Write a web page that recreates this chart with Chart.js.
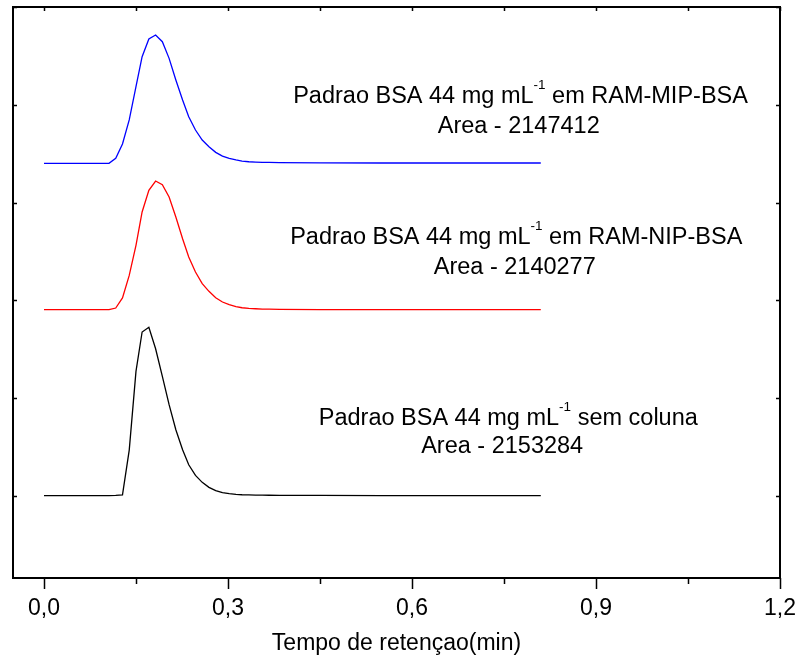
<!DOCTYPE html>
<html>
<head>
<meta charset="utf-8">
<script src="https://cdn.jsdelivr.net/npm/chart.js@4.4.1/dist/chart.umd.min.js"></script>
<style>
  html, body { margin: 0; padding: 0; background: #fff; }
  #wrap { width: 798px; height: 660px; position: relative; }
</style>
</head>
<body>
<div id="wrap"><canvas id="grafico"></canvas></div>
<script>
// Tempo de retenção (min), comum às três corridas
const tempo = [0, 0.05, 0.106, 0.117, 0.128, 0.139, 0.150, 0.160, 0.171, 0.182, 0.193, 0.204,
  0.215, 0.226, 0.236, 0.247, 0.258, 0.269, 0.280, 0.291, 0.302, 0.313, 0.323, 0.334,
  0.345, 0.356, 0.367, 0.384, 0.45, 0.55, 0.65, 0.81];

// Sinal (u.a.) - curvas deslocadas verticalmente
const sinalMIP = [3.402, 3.402, 3.402, 3.453, 3.599, 3.845, 4.185, 4.492, 4.673, 4.714, 4.645, 4.475,
  4.254, 4.049, 3.878, 3.742, 3.640, 3.572, 3.514, 3.476, 3.453, 3.436, 3.425, 3.418,
  3.415, 3.412, 3.412, 3.409, 3.406, 3.405, 3.405, 3.405];
const sinalNIP = [1.905, 1.905, 1.905, 1.922, 2.025, 2.256, 2.563, 2.904, 3.126, 3.221, 3.183, 3.057,
  2.853, 2.631, 2.444, 2.290, 2.171, 2.093, 2.028, 1.984, 1.956, 1.936, 1.925, 1.919,
  1.915, 1.912, 1.911, 1.909, 1.906, 1.905, 1.905, 1.905];
const sinalSemColuna = [0.005, 0.005, 0.005, 0.006, 0.012, 0.470, 1.275, 1.677, 1.725, 1.506, 1.224, 0.934,
  0.678, 0.473, 0.320, 0.211, 0.140, 0.089, 0.055, 0.034, 0.024, 0.017, 0.013, 0.011,
  0.010, 0.009, 0.008, 0.007, 0.006, 0.005, 0.005, 0.005];

// Eixos
const xTicks = [0, 0.3, 0.6, 0.9, 1.2];
const xTickLabels = ['0,0', '0,3', '0,6', '0,9', '1,2'];
const xMinorTicks = [0.15, 0.45, 0.75, 1.05];
const yTicks = [0, 1, 2, 3, 4, 5];

// Textos das anotações
const rotulos = [
  { pre: 'Padrao BSA 44 mg mL', sup: '-1', post: ' em RAM-MIP-BSA', area: 'Area - 2147412' },
  { pre: 'Padrao BSA 44 mg mL', sup: '-1', post: ' em RAM-NIP-BSA', area: 'Area - 2140277' },
  { pre: 'Padrao BSA 44 mg mL', sup: '-1', post: ' sem coluna', area: 'Area - 2153284' }
];
// posição (em unidades dos eixos) de cada linha de texto
const posRotulos = [
  { x1: 0.777, y1: 4.015, x2: 0.774, y2: 3.709 },
  { x1: 0.770, y1: 2.574, x2: 0.7675, y2: 2.270 },
  { x1: 0.757, y1: 0.726, x2: 0.747, y2: 0.437 }
];

const FONTE = "'Liberation Sans', Arial, sans-serif";
const TAM = 23;      // texto dos eixos
const TAM_ROT = 23.5; // anotações

function pontos(ys) {
  return tempo.map((t, i) => ({ x: t, y: ys[i] }));
}

// Moldura, marcas dos eixos e anotações
const moldura = {
  id: 'moldura',
  afterDatasetsDraw(chart) {
    const { ctx, chartArea: a, scales: { x, y } } = chart;
    ctx.save();
    ctx.strokeStyle = '#000';
    ctx.lineWidth = 2;
    ctx.strokeRect(a.left, a.top, a.right - a.left, a.bottom - a.top);

    ctx.lineWidth = 1.5;
    ctx.beginPath();
    xTicks.concat(xMinorTicks).forEach(v => {
      const px = Math.round(x.getPixelForValue(v)) + 0.5;
      const len = xTicks.includes(v) ? 11 : 6;
      ctx.moveTo(px, a.bottom);
      ctx.lineTo(px, a.bottom + len);
      ctx.moveTo(px, a.top);
      ctx.lineTo(px, a.top + 4);
    });
    yTicks.forEach(v => {
      const py = Math.round(y.getPixelForValue(v)) + 0.5;
      ctx.moveTo(a.left, py);
      ctx.lineTo(a.left + 4, py);
      ctx.moveTo(a.right, py);
      ctx.lineTo(a.right - 4, py);
    });
    ctx.stroke();

    // anotações
    ctx.fillStyle = '#000';
    ctx.textBaseline = 'alphabetic';
    const grande = TAM_ROT + 'px ' + FONTE;
    const peq = '13.5px ' + FONTE;
    rotulos.forEach((r, i) => {
      const p = posRotulos[i];
      ctx.font = grande;
      const wPre = ctx.measureText(r.pre).width;
      const wPost = ctx.measureText(r.post).width;
      ctx.font = peq;
      const wSup = ctx.measureText(r.sup).width;
      const total = wPre + wSup + wPost;
      const cx = x.getPixelForValue(p.x1) - total / 2;
      const by = y.getPixelForValue(p.y1);
      ctx.textAlign = 'left';
      ctx.font = grande;
      ctx.fillText(r.pre, cx, by);
      ctx.font = peq;
      ctx.fillText(r.sup, cx + wPre, by - 14.5);
      ctx.font = grande;
      ctx.fillText(r.post, cx + wPre + wSup, by);
      ctx.textAlign = 'center';
      ctx.fillText(r.area, x.getPixelForValue(p.x2), y.getPixelForValue(p.y2));
    });
    ctx.restore();
  }
};

const ctx = document.getElementById('grafico').getContext('2d');
new Chart(ctx, {
  type: 'line',
  data: {
    datasets: [
      { label: 'RAM-MIP-BSA', data: pontos(sinalMIP), borderColor: '#0000ff' },
      { label: 'RAM-NIP-BSA', data: pontos(sinalNIP), borderColor: '#ff0000' },
      { label: 'sem coluna', data: pontos(sinalSemColuna), borderColor: '#000000' }
    ]
  },
  options: {
    responsive: true,
    maintainAspectRatio: false,
    devicePixelRatio: 1,
    animation: false,
    layout: { padding: { left: 13, right: 18, top: 7, bottom: 0 } },
    elements: {
      line: { borderWidth: 1.3, tension: 0, fill: false },
      point: { radius: 0 }
    },
    plugins: {
      legend: { display: false },
      tooltip: { enabled: false }
    },
    scales: {
      x: {
        type: 'linear',
        min: -0.0505,
        max: 1.2,
        afterBuildTicks: s => { s.ticks = xTicks.map(v => ({ value: v })); },
        afterFit: s => {
          s.height = 82;
          s.paddingLeft = 0;
          s.paddingRight = 0;
        },
        ticks: {
          padding: 7,
          color: '#000',
          font: { family: FONTE, size: TAM },
          maxRotation: 0,
          callback: v => {
            const i = xTicks.findIndex(t => Math.abs(t - v) < 1e-6);
            return i >= 0 ? xTickLabels[i] : '';
          }
        },
        grid: { display: true, drawOnChartArea: false, tickLength: 10, color: 'rgba(0,0,0,0)' },
        border: { display: false },
        title: {
          display: true,
          text: 'Tempo de retençao(min)',
          color: '#000',
          font: { family: FONTE, size: TAM },
          padding: { top: 4, bottom: 3 }
        }
      },
      y: {
        type: 'linear',
        display: false,
        min: -0.838,
        max: 5
      }
    }
  },
  plugins: [moldura]
});
</script>
</body>
</html>
